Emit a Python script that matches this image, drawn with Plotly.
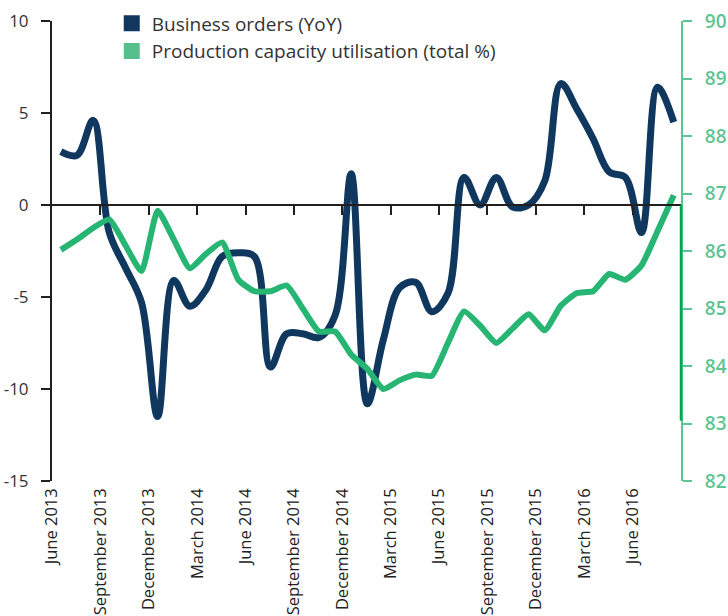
import numpy as np
import plotly.graph_objects as go

# Monthly data, June 2013 .. August 2016
business_orders = [2.9, 2.7, 4.6, -1.5, -3.4, -5.3, -11.5, -4.1, -5.5, -4.6,
                   -2.8, -2.6, -2.8, -8.8, -7.0, -7.0, -7.2, -6.0, 1.7, -10.8,
                   -7.3, -4.5, -4.2, -5.8, -4.8, 1.5, 0.0, 1.5, -0.1, 0.0,
                   1.3, 6.6, 5.2, 3.6, 1.8, 1.5, -1.5, 6.4, 4.5]
capacity_util = [86.02, 86.2, 86.4, 86.55, 86.1, 85.65, 86.7, 86.2, 85.7, 85.95,
                 86.15, 85.5, 85.3, 85.3, 85.4, 85.0, 84.6, 84.6, 84.2, 83.95,
                 83.6, 83.75, 83.85, 83.83, 84.4, 84.95, 84.7, 84.4, 84.65, 84.9,
                 84.62, 85.05, 85.27, 85.3, 85.6, 85.5, 85.75, 86.35, 86.97]
tick_labels = ["June 2013", "September 2013", "December 2013", "March 2014",
               "June 2014", "September 2014", "December 2014", "March 2015",
               "June 2015", "September 2015", "December 2015", "March 2016",
               "June 2016"]
left_ticks = [-15, -10, -5, 0, 5, 10]
left_tick_text = ["-15", "-10", "-5", "0", "5", "10"]
series_names = ["Business orders (YoY)", "Production capacity utilisation (total %)"]

NAVY = "#10385f"
GREEN = "#27b574"
LGREEN = "#55c08c"
AXGREEN = "#5cc590"
FONT = "Open Sans"

x = np.arange(len(business_orders)) + 0.55
tickvals = [3 * i for i in range(len(tick_labels))]

fig = go.Figure()
fig.add_trace(go.Scatter(x=x, y=capacity_util, yaxis="y2", mode="lines",
                         line=dict(color=GREEN, width=6, shape="spline", smoothing=0.5),
                         showlegend=False, hoverinfo="skip"))
fig.add_trace(go.Scatter(x=x, y=business_orders, mode="lines",
                         line=dict(color=NAVY, width=7, shape="spline", smoothing=1.0),
                         showlegend=False, hoverinfo="skip"))
# carrier for the axis drawn along the zero line
fig.add_trace(go.Scatter(x=[None], y=[None], xaxis="x2", mode="lines",
                         showlegend=False, hoverinfo="skip"))
# legend entries (square swatches)
fig.add_trace(go.Scatter(x=[None], y=[None], mode="markers", name=series_names[0],
                         marker=dict(symbol="square", size=17, color="#12375f")))
fig.add_trace(go.Scatter(x=[None], y=[None], mode="markers", name=series_names[1],
                         marker=dict(symbol="square", size=17, color=LGREEN)))

fig.update_layout(
    width=728, height=616,
    margin=dict(l=52, r=47, t=21, b=135, autoexpand=False),
    paper_bgcolor="white", plot_bgcolor="white",
    font=dict(family=FONT, color="#222222"),
    showlegend=True,
    legend=dict(x=0.095, y=1.036, xanchor="left", yanchor="top",
                bgcolor="rgba(0,0,0,0)", font=dict(size=19, color="#333333"),
                tracegroupgap=0),
    xaxis=dict(range=[0, 39], tickvals=tickvals, ticktext=tick_labels,
               tickangle=-90, ticks="", showline=False, showgrid=False,
               zeroline=False, tickfont=dict(size=16.5, color="#222222"),
               ticklabelstandoff=3, automargin=False),
    xaxis2=dict(range=[0, 39], overlaying="x", anchor="free", position=0.6,
                side="bottom", showline=True, linecolor="#231f20", linewidth=2,
                ticks="outside", tickvals=tickvals[1:], ticklen=9, tickwidth=2,
                tickcolor="#231f20", showticklabels=False, showgrid=False,
                zeroline=False),
    yaxis=dict(range=[-15, 10], tickvals=left_ticks, ticktext=left_tick_text,
               showline=True, linecolor="#231f20",
               linewidth=2, ticks="outside", ticklen=9, tickwidth=2,
               tickcolor="#231f20", showgrid=False, zeroline=False,
               tickfont=dict(size=17, color="#333333"), ticklabelstandoff=9,
               automargin=False),
    yaxis2=dict(range=[82, 90], dtick=1, overlaying="y", side="right",
                showline=True, linecolor=AXGREEN, linewidth=2, ticks="outside",
                ticklen=9, tickwidth=2, tickcolor=AXGREEN, showgrid=False,
                zeroline=False, tickfont=dict(size=19, color=AXGREEN, weight=600),
                ticklabelstandoff=9, automargin=False),
)
# darker segment of the right axis line
fig.add_shape(type="line", xref="paper", yref="y2", x0=1, x1=1, y0=83.05, y1=86.8,
              line=dict(color="#00a651", width=2.5))

# remove the browser's default page margin so the 728x616 figure fills the window
page_js = ("document.body.style.margin='0';"
           "document.documentElement.style.overflow='hidden';"
           "document.body.style.overflow='hidden';")
fig.write_html("out.html", post_script=page_js,
               config={"displayModeBar": False})
